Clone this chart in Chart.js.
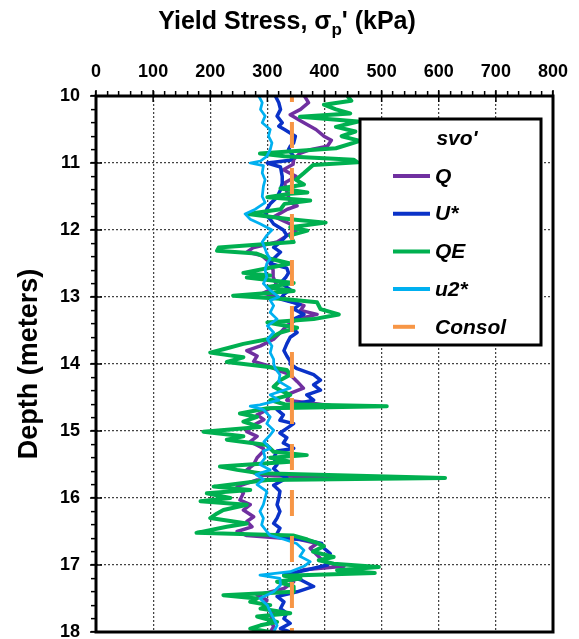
<!DOCTYPE html>
<html>
<head>
<meta charset="utf-8">
<script src="https://cdn.jsdelivr.net/npm/chart.js@4.4.1/dist/chart.umd.min.js"></script>
<style>
    html, body { margin: 0; padding: 0; background: #fff; }
    #contenedor { width: 579px; height: 639px; }
</style>
</head>
<body>
<div id="contenedor"><canvas id="grafico" width="579" height="639"></canvas></div>
<script>
// Datos: profundidad (m) y esfuerzo de fluencia (kPa)
const xMarcas = [0, 100, 200, 300, 400, 500, 600, 700, 800];
const yMarcas = [10, 11, 12, 13, 14, 15, 16, 17, 18];

const qProf = [10.0, 10.1, 10.2, 10.28, 10.4, 10.5, 10.6, 10.66, 10.75, 10.8, 10.86, 10.95, 11.02, 11.1, 11.2, 11.3, 11.45, 11.59, 11.64, 11.69, 11.8, 11.91, 12.0, 12.08, 12.18, 12.26, 12.33, 12.38, 12.49, 12.6, 12.7, 12.84, 12.94, 13.0, 13.08, 13.13, 13.2, 13.26, 13.33, 13.43, 13.53, 13.63, 13.73, 13.8, 13.88, 13.96, 14.02, 14.1, 14.16, 14.26, 14.36, 14.44, 14.54, 14.62, 14.66, 14.76, 14.83, 14.91, 15.01, 15.08, 15.16, 15.26, 15.3, 15.4, 15.5, 15.58, 15.66, 15.69, 15.73, 15.83, 15.93, 16.03, 16.1, 16.18, 16.28, 16.35, 16.43, 16.5, 16.56, 16.62, 16.68, 16.75, 16.85, 16.95, 17.02, 17.07, 17.15, 17.25, 17.35, 17.45, 17.52, 17.62, 17.72, 17.82, 17.92, 18.0];
const qVal = [365, 372, 358, 340, 364, 385, 399, 412, 405, 375, 356, 346, 345, 328, 350, 330, 335, 340, 352, 335, 312, 340, 352, 335, 317, 276, 264, 290, 305, 310, 310, 317, 293, 317, 346, 364, 358, 387, 352, 334, 323, 311, 288, 264, 282, 276, 300, 320, 340, 352, 363, 340, 334, 410, 305, 282, 294, 276, 264, 282, 270, 293, 293, 282, 276, 264, 287, 450, 282, 247, 258, 252, 270, 258, 276, 264, 273, 247, 264, 357, 387, 375, 387, 399, 434, 364, 340, 346, 329, 282, 299, 293, 311, 305, 311, 305];

const uProf = [10.0, 10.1, 10.2, 10.3, 10.4, 10.45, 10.5, 10.6, 10.7, 10.75, 10.8, 10.9, 10.96, 11.0, 11.06, 11.2, 11.3, 11.4, 11.51, 11.61, 11.69, 11.76, 11.84, 11.91, 12.0, 12.08, 12.18, 12.26, 12.33, 12.43, 12.5, 12.57, 12.64, 12.71, 12.79, 12.89, 12.96, 13.03, 13.11, 13.18, 13.26, 13.33, 13.43, 13.53, 13.6, 13.7, 13.8, 13.88, 13.96, 14.0, 14.07, 14.16, 14.24, 14.31, 14.39, 14.46, 14.54, 14.61, 14.68, 14.76, 14.84, 14.89, 14.96, 15.03, 15.1, 15.18, 15.26, 15.3, 15.4, 15.5, 15.56, 15.65, 15.7, 15.81, 15.9, 16.0, 16.1, 16.2, 16.3, 16.38, 16.45, 16.53, 16.58, 16.63, 16.68, 16.75, 16.83, 16.93, 17.0, 17.07, 17.15, 17.22, 17.32, 17.4, 17.47, 17.55, 17.65, 17.72, 17.8, 17.87, 17.95, 18.0];
const uVal = [314, 320, 323, 317, 326, 320, 330, 349, 346, 340, 337, 346, 340, 300, 323, 326, 326, 323, 317, 305, 299, 296, 305, 311, 328, 334, 323, 311, 323, 311, 305, 334, 337, 332, 323, 340, 329, 323, 357, 346, 364, 346, 340, 352, 340, 334, 329, 334, 340, 340, 352, 381, 393, 381, 393, 369, 381, 340, 317, 328, 322, 346, 334, 322, 334, 328, 346, 317, 311, 317, 311, 322, 334, 311, 322, 320, 317, 322, 317, 311, 322, 317, 322, 369, 395, 399, 410, 399, 405, 370, 329, 358, 381, 352, 317, 329, 323, 334, 329, 340, 323, 340];

const qeProf = [10.0, 10.07, 10.13, 10.2, 10.26, 10.31, 10.38, 10.46, 10.53, 10.6, 10.67, 10.78, 10.86, 10.9, 10.95, 10.99, 11.03, 11.15, 11.25, 11.32, 11.38, 11.44, 11.46, 11.51, 11.56, 11.61, 11.69, 11.76, 11.84, 11.89, 11.96, 12.01, 12.08, 12.18, 12.26, 12.31, 12.35, 12.43, 12.5, 12.57, 12.64, 12.68, 12.71, 12.79, 12.85, 12.91, 12.98, 13.03, 13.08, 13.18, 13.26, 13.33, 13.38, 13.46, 13.53, 13.63, 13.7, 13.78, 13.83, 13.9, 13.97, 14.04, 14.09, 14.16, 14.24, 14.34, 14.39, 14.46, 14.54, 14.6, 14.63, 14.66, 14.74, 14.79, 14.86, 14.94, 15.01, 15.08, 15.13, 15.21, 15.31, 15.36, 15.4, 15.46, 15.53, 15.58, 15.63, 15.7, 15.73, 15.83, 15.88, 15.93, 16.0, 16.05, 16.1, 16.18, 16.23, 16.3, 16.38, 16.43, 16.52, 16.56, 16.62, 16.67, 16.72, 16.8, 16.88, 16.93, 16.98, 17.03, 17.08, 17.12, 17.16, 17.2, 17.25, 17.32, 17.4, 17.45, 17.5, 17.55, 17.6, 17.65, 17.72, 17.77, 17.85, 17.9, 17.95, 18.0];
const qeVal = [440, 447, 399, 420, 445, 357, 459, 420, 454, 430, 462, 420, 287, 330, 451, 458, 380, 364, 350, 364, 323, 370, 340, 300, 375, 330, 323, 266, 340, 402, 340, 370, 340, 346, 215, 212, 280, 305, 340, 300, 258, 305, 264, 346, 300, 346, 240, 329, 387, 393, 425, 381, 300, 352, 323, 300, 258, 223, 200, 258, 229, 299, 334, 340, 323, 311, 322, 340, 305, 330, 509, 300, 252, 282, 258, 287, 188, 258, 229, 299, 311, 369, 305, 340, 217, 247, 287, 611, 300, 206, 270, 194, 235, 183, 264, 223, 212, 200, 264, 229, 176, 345, 370, 387, 399, 380, 416, 390, 416, 495, 422, 488, 329, 358, 317, 346, 346, 223, 282, 270, 305, 288, 340, 282, 317, 288, 270, 305];

const u2Prof = [10.0, 10.1, 10.2, 10.3, 10.4, 10.5, 10.6, 10.7, 10.8, 10.9, 10.97, 11.0, 11.04, 11.15, 11.25, 11.35, 11.5, 11.59, 11.69, 11.76, 11.84, 11.91, 12.0, 12.08, 12.18, 12.28, 12.35, 12.43, 12.5, 12.6, 12.7, 12.8, 12.9, 13.0, 13.05, 13.13, 13.23, 13.33, 13.43, 13.53, 13.63, 13.73, 13.83, 13.93, 14.0, 14.07, 14.16, 14.26, 14.36, 14.46, 14.54, 14.61, 14.63, 14.68, 14.79, 14.89, 14.99, 15.06, 15.16, 15.26, 15.3, 15.4, 15.5, 15.58, 15.65, 15.72, 15.8, 15.9, 16.0, 16.1, 16.2, 16.3, 16.4, 16.5, 16.56, 16.62, 16.68, 16.78, 16.87, 16.95, 17.02, 17.1, 17.15, 17.2, 17.3, 17.4, 17.5, 17.6, 17.7, 17.8, 17.9, 18.0];
const u2Val = [285, 291, 288, 296, 291, 305, 302, 308, 305, 299, 288, 270, 293, 291, 296, 293, 291, 296, 279, 261, 270, 288, 308, 299, 291, 296, 299, 305, 299, 296, 299, 293, 305, 320, 305, 311, 305, 317, 300, 311, 300, 308, 305, 311, 311, 314, 322, 320, 340, 305, 320, 287, 270, 293, 305, 299, 311, 305, 294, 305, 293, 296, 287, 305, 280, 293, 282, 299, 296, 293, 287, 293, 290, 299, 305, 330, 351, 364, 357, 375, 364, 340, 287, 322, 323, 311, 287, 300, 305, 311, 317, 311];

const consolProf = [10, 18];
const consolVal = [343, 343];

const fuente = '"Liberation Sans", Arial, sans-serif';

function puntos(prof, val) {
    return prof.map((p, i) => ({ x: val[i], y: p }));
}

function esEntero(v) {
    return Math.abs(v - Math.round(v)) < 1e-6;
}

// Marco, marcas mayores, titulo superior y leyenda
const decoracion = {
    id: "decoracion",
    afterDraw(chart) {
        const { ctx, chartArea: a, scales } = chart;
        ctx.save();

        ctx.strokeStyle = "#000";
        ctx.lineWidth = 3;
        ctx.strokeRect(a.left, a.top, a.right - a.left, a.bottom - a.top);

        ctx.lineWidth = 1.5;
        ctx.beginPath();
        xMarcas.forEach(v => {
            const px = scales.x.getPixelForValue(v);
            ctx.moveTo(px, a.top - 6);
            ctx.lineTo(px, a.top + 6);
        });
        yMarcas.forEach(v => {
            const py = scales.y.getPixelForValue(v);
            ctx.moveTo(a.left - 6, py);
            ctx.lineTo(a.left + 6, py);
        });
        ctx.stroke();

        // titulo con subindice
        const partes = [
            { t: "Yield Stress, \u03c3", f: "bold 25px " + fuente, dy: 0 },
            { t: "p", f: "bold 17px " + fuente, dy: 6 },
            { t: "' (kPa)", f: "bold 25px " + fuente, dy: 0 }
        ];
        let ancho = 0;
        partes.forEach(p => { ctx.font = p.f; p.w = ctx.measureText(p.t).width; ancho += p.w; });
        let x = 287 - ancho / 2;
        ctx.fillStyle = "#000";
        ctx.textBaseline = "alphabetic";
        ctx.textAlign = "left";
        partes.forEach(p => {
            ctx.font = p.f;
            ctx.fillText(p.t, x, 29 + p.dy);
            x += p.w;
        });

        // leyenda
        const caja = { x: 360, y: 119, w: 181, h: 226 };
        ctx.fillStyle = "#fff";
        ctx.fillRect(caja.x, caja.y, caja.w, caja.h);
        ctx.lineWidth = 3;
        ctx.strokeRect(caja.x, caja.y, caja.w, caja.h);
        ctx.fillStyle = "#000";
        ctx.font = "italic bold 21px " + fuente;
        ctx.textAlign = "center";
        ctx.textBaseline = "middle";
        ctx.fillText("svo'", 457, 139);
        ctx.textAlign = "left";
        chart.data.datasets.forEach((ds, i) => {
            const yy = 176 + i * 37.7;
            ctx.strokeStyle = ds.borderColor;
            ctx.lineWidth = 4;
            ctx.beginPath();
            ctx.moveTo(393, yy);
            ctx.lineTo(ds.label === "Consol" ? 415 : 430, yy);
            ctx.stroke();
            ctx.fillText(ds.label, 435, yy + 1);
        });

        ctx.restore();
    }
};

new Chart(document.getElementById("grafico"), {
    type: "scatter",
    data: {
        datasets: [
            { label: "Q", data: puntos(qProf, qVal), borderColor: "#7030A0", borderWidth: 3.5, order: 5 },
            { label: "U*", data: puntos(uProf, uVal), borderColor: "#0A32C8", borderWidth: 3.5, order: 4 },
            { label: "QE", data: puntos(qeProf, qeVal), borderColor: "#00B050", borderWidth: 4, order: 3 },
            { label: "u2*", data: puntos(u2Prof, u2Val), borderColor: "#00B0F0", borderWidth: 2.75, order: 2 },
            { label: "Consol", data: puntos(consolProf, consolVal), borderColor: "#F79646", borderWidth: 4,
              borderDash: [26, 20], borderDashOffset: 20, order: 1 }
        ].map(ds => Object.assign({ showLine: true, pointRadius: 0, pointHoverRadius: 0, tension: 0, fill: false,
                                    borderJoinStyle: "round", borderCapStyle: "butt" }, ds))
    },
    options: {
        responsive: false,
        animation: false,
        devicePixelRatio: 1,
        layout: { padding: { left: 0, right: 26, top: 0, bottom: 7 } },
        plugins: { legend: { display: false }, tooltip: { enabled: false } },
        scales: {
            x: {
                type: "linear",
                position: "top",
                min: 0,
                max: 800,
                ticks: {
                    stepSize: 20,
                    autoSkip: false,
                    maxRotation: 0,
                    color: "#000",
                    padding: 8,
                    font: { family: fuente, size: 18, weight: "bold" },
                    callback: v => xMarcas.includes(v) ? v : ""
                },
                grid: {
                    color: c => (c.tick && c.tick.value % 100 === 0) ? "#444" : "rgba(0,0,0,0)",
                    lineWidth: 1.25,
                    tickLength: 5,
                    tickColor: "#000",
                    tickWidth: 1.5
                },
                border: { display: false, dash: [2, 2] },
                afterFit: s => { s.height = 96; s.paddingLeft = 0; s.paddingRight = 0; }
            },
            y: {
                type: "linear",
                reverse: true,
                min: 10,
                max: 18,
                ticks: {
                    stepSize: 0.2,
                    autoSkip: false,
                    color: "#000",
                    padding: 11,
                    font: { family: fuente, size: 18, weight: "bold" },
                    callback: v => esEntero(v) ? Math.round(v) : ""
                },
                title: {
                    display: true,
                    text: "Depth (meters)",
                    color: "#000",
                    font: { family: fuente, size: 27, weight: "bold" },
                    padding: { top: 13, bottom: 0 }
                },
                grid: {
                    color: c => (c.tick && esEntero(c.tick.value)) ? "#444" : "rgba(0,0,0,0)",
                    lineWidth: 1.25,
                    tickLength: 5,
                    tickColor: "#000",
                    tickWidth: 1.5
                },
                border: { display: false, dash: [2, 2] },
                afterFit: s => { s.width = 96; s.paddingTop = 0; s.paddingBottom = 0; }
            }
        }
    },
    plugins: [decoracion]
});
</script>
</body>
</html>
